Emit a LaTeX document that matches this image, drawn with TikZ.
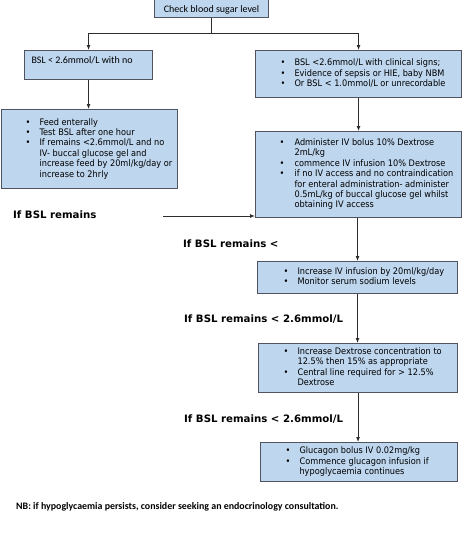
\documentclass[tikz,border=0pt]{standalone}
\usepackage{fontspec}
\usepackage{array}
\usetikzlibrary{arrows.meta}
\newfontfamily\tahfont{DejaVu Sans}[FakeStretch=0.91]
\newfontfamily\verdfont{DejaVu Sans}
\newfontfamily\calfont{Carlito}
\definecolor{boxfill}{RGB}{190,214,238}
\definecolor{boxline}{RGB}{80,84,94}
\definecolor{arrline}{RGB}{45,45,45}
\newcommand\blist[4]{%
 \makebox[#1pt][l]{\hspace*{#2pt}{\tahfont\fontsize{9}{10.4}\selectfont
 \begin{tabular}{@{}>{\raggedright\arraybackslash}p{#3pt}@{}>{\raggedright\arraybackslash}p{220pt}@{}}#4\end{tabular}}}}
\tikzset{
 box/.style={draw=boxline, fill=boxfill, line width=1.1pt, inner sep=0pt, anchor=north west},
 arr/.style={draw=arrline, line width=0.9pt, -{Latex[length=5pt,width=4pt]}},
 conn/.style={draw=arrline, line width=0.9pt},
 lab/.style={font=\verdfont\bfseries\fontsize{10.2}{12}\selectfont, anchor=base west, inner sep=0pt},
}
\begin{document}
\begin{tikzpicture}[x=1pt,y=-1pt]
\useasboundingbox[fill=white] (0,0) rectangle (474,552);
% boxes
\node[box, minimum width=114pt, minimum height=21pt] (top) at (154,-4)
 {\calfont\fontsize{10}{12}\selectfont\raisebox{-5.5pt}[0pt][0pt]{Check blood sugar level}};
\node[box, minimum width=128pt, minimum height=29pt] (lb1) at (24,50)
 {\makebox[128pt][l]{\hspace*{7pt}\calfont\fontsize{10}{12}\selectfont\raisebox{1.5pt}[0pt][0pt]{BSL < 2.6mmol/L with no}}};
\node[box, minimum width=206pt, minimum height=47pt] (rb1) at (255,50)
 {\blist{206}{25}{14}{%
 \textbullet & BSL <2.6mmol/L with clinical signs;\\
 \textbullet & Evidence of sepsis or HIE, baby NBM\\
 \textbullet & Or BSL < 1.0mmol/L or unrecordable}};
\node[box, minimum width=176pt, minimum height=79pt] (lb2) at (1,109)
 {\blist{176}{24}{14}{%
 \textbullet & Feed enterally\\
 \textbullet & Test BSL after one hour\\
 \textbullet & If remains <2.6mmol/L and no\newline IV- buccal glucose gel and\newline increase feed by 20ml/kg/day or\newline increase to 2hrly}};
\node[box, minimum width=206pt, minimum height=86pt] (rb2) at (255,131)
 {\blist{206}{24}{15}{%
 \textbullet & Administer IV bolus 10\% Dextrose\newline 2mL/kg\\
 \textbullet & commence IV infusion 10\% Dextrose\\
 \textbullet & if no IV access and no contraindication\newline for enteral administration- administer\newline 0.5mL/kg of buccal glucose gel whilst\newline obtaining IV access}};
\node[box, minimum width=200pt, minimum height=32pt] (b3) at (257,261)
 {\blist{200}{26}{14}{%
 \textbullet & Increase IV infusion by 20ml/kg/day\\
 \textbullet & Monitor serum sodium levels}};
\node[box, minimum width=199pt, minimum height=49pt] (b4) at (258,343)
 {\blist{199}{25}{14}{%
 \textbullet & Increase Dextrose concentration to\newline 12.5\% then 15\% as appropriate\\
 \textbullet & Central line required for > 12.5\%\newline Dextrose}};
\node[box, minimum width=197pt, minimum height=39pt] (b5) at (260,442)
 {\blist{197}{25}{14}{%
 \textbullet & Glucagon bolus IV 0.02mg/kg\\
 \textbullet & Commence glucagon infusion if\newline hypoglycaemia continues}};
% labels
\node[lab] (l1) at (13,218) {If BSL remains};
\node[lab] (l2) at (183,247) {If BSL remains <};
\node[lab] (l3) at (184,322) {If BSL remains < 2.6mmol/L};
\node[lab] (l4) at (184,422) {If BSL remains < 2.6mmol/L};
\node[anchor=base west, inner sep=0pt, font=\calfont\bfseries\fontsize{9.9}{12}\selectfont] (nb) at (16,509)
 {NB: if hypoglycaemia persists, consider seeking an endocrinology consultation.};
% connectors
\draw[conn] (top.south) -- ++(0,15) coordinate (split);
\draw[arr] (split) -| (lb1.north);
\draw[arr] (split) -| (rb1.north);
\draw[arr] (lb1.south) -- (lb1.south |- lb2.north);
\draw[arr] (rb1.south) -- (rb1.south |- rb2.north);
\coordinate (s1) at (163,216);
\draw[arr] (s1) -- (s1 -| rb2.west);
\draw[arr] (rb2.south) ++(-1,0) coordinate (r2s) -- (r2s |- b3.north);
\draw[arr] (b3.south) -- (b3.south |- b4.north);
\draw[arr] (b4.south) -- (b4.south |- b5.north);
\end{tikzpicture}
\end{document}
